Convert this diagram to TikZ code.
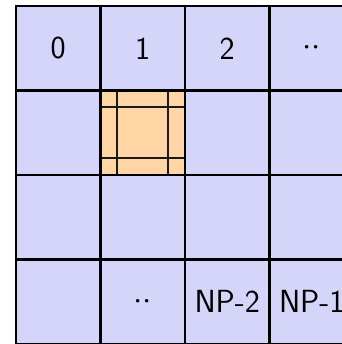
\documentclass[tikz,border=0pt]{standalone}
\usetikzlibrary{calc}
\definecolor{cellblue}{RGB}{213,213,250}
\definecolor{cellorange}{RGB}{255,213,165}
\begin{document}
\begin{tikzpicture}[x=0.75pt,y=-0.75pt,
  cell/.style={draw=black, line width=1.6pt, fill=cellblue, minimum size=63.375pt,
    inner sep=0pt, outer sep=0pt, font=\sffamily\fontsize{24}{28}\selectfont},
  hot/.style={cell, fill=cellorange},
  label/.style={font=\sffamily\fontsize{24}{28}\selectfont},
  inner/.style={draw=black!90, line width=1.4pt}]
\useasboundingbox (0,0) rectangle (342,344);
\clip (0,0) rectangle (342,344);
\foreach \r in {0,...,3}{
  \foreach \c in {0,...,3}{
    \node[cell] (c\r\c) at ({16+84.5*(\c+0.5)},{6+84.5*(\r+0.5)}) {};
  }
}
\node[hot] (h11) at (c11) {};
\draw[inner] ($(h11.north west)!0.2!(h11.north east)$) -- ($(h11.south west)!0.2!(h11.south east)$);
\draw[inner] ($(h11.north west)!0.8!(h11.north east)$) -- ($(h11.south west)!0.8!(h11.south east)$);
\draw[inner] ($(h11.north west)!0.2!(h11.south west)$) -- ($(h11.north east)!0.2!(h11.south east)$);
\draw[inner] ($(h11.north west)!0.8!(h11.south west)$) -- ($(h11.north east)!0.8!(h11.south east)$);
\draw[line width=1.9pt] (h11.north west) rectangle (h11.south east);
\node[label] (t0) at (c00) {0};
\node[label] (t1) at (c01) {1};
\node[label] (t2) at (c02) {2};
\node[label] (t3) at (c03) {${\cdot}{\cdot}$};
\node[label] (t4) at (c31) {${\cdot}{\cdot}$};
\node[label] (t5) at (c32) {NP-2};
\node[label] (t6) at (c33) {NP-1};
\end{tikzpicture}
\end{document}
